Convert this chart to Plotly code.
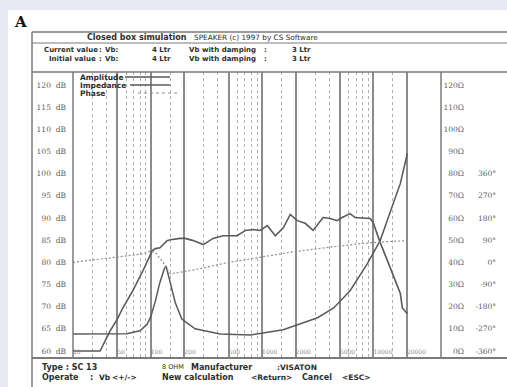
import math
import plotly.graph_objects as go

# ---------------- data ----------------
freq_amp = [20, 28, 35, 43, 50, 56, 61, 69, 85, 95, 103, 110, 121, 140, 150, 184, 204, 241, 296, 363,
            446, 597, 709, 837, 963, 1113, 1314, 1552, 1791, 2070, 2440, 2870, 3530, 4080, 4720, 5240,
            6170, 6850, 9340, 9940, 11500, 15100, 17460, 18200, 20200]
amp_db = [60, 60, 60, 64.5, 67.2, 69.7, 71.3, 73.6, 78.1, 80.8, 82.6, 83.1, 83.3, 84.9, 85.1, 85.4, 85.4,
          84.9, 84.0, 85.4, 86.0, 86.0, 87.2, 87.4, 87.2, 88.3, 86.0, 87.8, 90.8, 89.4, 88.8, 87.2, 90.1,
          89.9, 89.4, 90.1, 91.0, 90.1, 89.9, 89.0, 84.5, 77.0, 73.0, 69.7, 68.4]

freq_imp = [20, 40, 61, 80, 93, 100, 110, 120, 126, 132, 137, 143, 150, 166, 190, 250, 420, 784, 1550,
            2220, 3150, 4400, 6170, 8830, 11500, 15100, 17460, 20200]
imp_ohm = [7.7, 7.7, 7.8, 9.1, 12.2, 15.5, 22.6, 30.5, 34.0, 37.0, 38.4, 34.5, 30.4, 21.8, 14.4, 10.0,
           7.7, 7.2, 9.6, 12.2, 15.0, 19.4, 27.2, 39.4, 49.8, 66.6, 75.6, 89.2]

freq_phase = [20, 33, 53, 85, 99, 110, 120, 129, 140, 150, 250, 490, 1000, 1910, 4000, 7700, 12000,
              17500, 20000]
phase_deg = [0, 11, 23, 35, 45, 40, 20, 0, -27, -47, -30, -1, 22, 43, 61, 76, 83, 88, 88]

x_tick_vals = [20, 50, 100, 200, 500, 1000, 2000, 5000, 10000, 20000]
x_tick_text = ["20", "50", "100", "200", "500", "1000", "2000", "5000", "10000", "20000"]
x_minor_vals = [30, 40, 60, 70, 80, 90, 150, 300, 400, 600, 700, 800, 900, 1500, 3000, 4000,
                6000, 7000, 8000, 9000, 15000]

db_ticks = list(range(60, 121, 5))
db_labels = [f"{v}\u00a0\u00a0dB" for v in db_ticks]
db_solid = list(range(60, 121, 10))
db_dashed = list(range(65, 120, 10))
ohm_ticks = list(range(0, 121, 10))
ohm_labels = [f"{v}Ω" for v in ohm_ticks]
deg_ticks = list(range(-360, 361, 90))
deg_labels = [f"{v}°" for v in deg_ticks]

# ---------------- geometry helpers ----------------
W, H = 507, 387
ML, MR, MT, MB = 73, 8, 72, 30
PW = W - ML - MR
PH = H - MT - MB
PLOT_R = 441


def px(x):
    return (x - ML) / PW


def py(y):
    return (H - MB - y) / PH


DB_RANGE = [58.65, 122.93]
OHM_RANGE = [(DB_RANGE[0] - 60) * 2, (DB_RANGE[1] - 60) * 2]
DEG_RANGE = [(DB_RANGE[0] - 80) * 18, (DB_RANGE[1] - 80) * 18]
X_RANGE = [math.log10(20), math.log10(20) + (PLOT_R - ML) / 111.3]

CURVE = "#5a5a5a"
GRID = "#8c8c8c"
TXT = "#2e2e2e"
LBL = "#5e5e5e"
PHASE_C = "#8e8e8e"

fig = go.Figure()
fig.add_trace(go.Scatter(x=freq_amp, y=amp_db, mode="lines", line=dict(color=CURVE, width=1.6),
                         xaxis="x", yaxis="y", showlegend=False, name="Amplitude"))
fig.add_trace(go.Scatter(x=freq_imp, y=imp_ohm, mode="lines", line=dict(color=CURVE, width=1.5),
                         xaxis="x", yaxis="y2", showlegend=False, name="Impedance"))
fig.add_trace(go.Scatter(x=freq_phase, y=phase_deg, mode="lines",
                         line=dict(color=PHASE_C, width=1.2, dash="2px,2px"),
                         xaxis="x", yaxis="y3", showlegend=False, name="Phase"))

serif = "DejaVu Serif"
sans = "DejaVu Sans"

fig.update_layout(
    width=W, height=H,
    margin=dict(l=ML, r=MR, t=MT, b=MB, pad=0),
    paper_bgcolor="white", plot_bgcolor="white",
    showlegend=False,
    xaxis=dict(type="log", range=X_RANGE, domain=[0, (PLOT_R - ML) / PW], autorange=False,
               tickvals=x_tick_vals, ticktext=x_tick_text, ticks="",
               ticklabelposition="outside right", ticklabelstandoff=-10,
               tickfont=dict(family=serif, size=6, color="#8a8a8a"),
               showgrid=True, gridcolor=GRID, gridwidth=1.5, zeroline=False, showline=False,
               minor=dict(tickvals=x_minor_vals, showgrid=True, gridcolor="#b0b0b0",
                          griddash="dot", gridwidth=1, ticks=""),
               automargin=False),
    yaxis=dict(range=DB_RANGE, autorange=False, tickvals=db_ticks, ticktext=db_labels, ticks="",
               tickfont=dict(family=serif, size=7.5, color=LBL), ticklabelstandoff=6,
               showgrid=False, zeroline=False, showline=False, automargin=False),
    yaxis4=dict(range=DB_RANGE, autorange=False, overlaying="y", tickvals=db_solid,
                showticklabels=False, ticks="", showgrid=True, gridcolor=GRID, gridwidth=1.5,
                zeroline=False, showline=False, automargin=False,
                minor=dict(tickvals=db_dashed, showgrid=True, gridcolor="#6e6e6e",
                           griddash="3px,2px", gridwidth=1.5, ticks="")),
    yaxis2=dict(range=OHM_RANGE, autorange=False, overlaying="y", side="right", anchor="free",
                position=px(467), tickvals=ohm_ticks, ticktext=ohm_labels, ticks="",
                ticklabelposition="inside", tickfont=dict(family=serif, size=7.5, color=LBL),
                showgrid=False, zeroline=False, showline=False, automargin=False),
    yaxis3=dict(range=DEG_RANGE, autorange=False, overlaying="y", side="right", anchor="free",
                position=px(499), tickvals=deg_ticks, ticktext=deg_labels, ticks="",
                ticklabelposition="inside", tickfont=dict(family=serif, size=7.5, color=LBL),
                showgrid=False, zeroline=False, showline=False, automargin=False),
)

shapes = []
LAV = "#e6e9f3"
shapes.append(dict(type="rect", xref="paper", yref="paper", x0=px(0), x1=px(W), y0=py(0), y1=py(10),
                   fillcolor=LAV, line=dict(width=0), layer="above"))
shapes.append(dict(type="rect", xref="paper", yref="paper", x0=px(0), x1=px(8), y0=py(0), y1=py(H),
                   fillcolor=LAV, line=dict(width=0), layer="above"))


def hline(y, x0, x1, color="#7a7a7a", width=1.5, dash="solid"):
    shapes.append(dict(type="line", xref="paper", yref="paper", x0=px(x0), x1=px(x1), y0=py(y), y1=py(y),
                       line=dict(color=color, width=width, dash=dash), layer="above"))


def vline(x, y0, y1, color="#7a7a7a", width=1.5):
    shapes.append(dict(type="line", xref="paper", yref="paper", x0=px(x), x1=px(x), y0=py(y0), y1=py(y1),
                       line=dict(color=color, width=width), layer="above"))


hline(32, 32, W)
hline(43, 32, W, width=1)
hline(72, 32, W)
hline(358, 32, W, width=2)
vline(32, 32, H)
vline(ML, 72, 358)
vline(PLOT_R, 72, 358)
# legend samples
hline(77, 125, 170, color=CURVE, width=1.5)
hline(85, 130, 170, color=CURVE, width=1.5)
hline(93, 138, 178, color=PHASE_C, width=1.2, dash="dot")
fig.update_layout(shapes=shapes)

ann = []


def text(x, y, s, size=7.5, bold=True, family=sans, color=TXT, anchor="left"):
    ann.append(dict(xref="paper", yref="paper", x=px(x), y=py(y), text=s, showarrow=False,
                    xanchor=anchor, yanchor="middle",
                    font=dict(family=family, size=size, color=color, weight="bold" if bold else "normal")))


text(12, 22, "A", size=15, family=serif, color="#111")
text(85, 37, "Closed box simulation", size=8)
text(192, 37, "SPEAKER (c) 1997 by CS Software", size=7.3, bold=False)
for yy, lab, x0 in [(50, "Current value", 42), (59, "Initial value", 47)]:
    text(x0, yy, lab, size=7)
    text(97, yy, ":", size=7)
    text(103, yy, "Vb:", size=7)
    text(150, yy, "4 Ltr", size=7)
    text(187, yy, "Vb", size=7)
    text(200, yy, "with damping", size=7)
    text(262, yy, ":", size=7)
    text(290, yy, "3 Ltr", size=7)
text(78, 77, "Amplitude", size=7.5)
text(78, 85, "Impedance", size=7.5)
text(78, 93, "Phase", size=7.5)
text(40, 367, "Type : SC 13", size=8)
text(160, 367, "8 OHM", size=6.5, bold=False)
text(189, 367, "Manufacturer", size=8)
text(275, 367, ":VISATON", size=7.5)
text(40, 377, "Operate", size=8)
text(88, 377, ":", size=8)
text(97, 377, "Vb", size=7.5)
text(110, 377, "<+/->", size=7.5)
text(160, 377, "New calculation", size=8)
text(249, 377, "<Return>", size=7.5)
text(300, 377, "Cancel", size=8)
text(340, 377, "<ESC>", size=7.5)
fig.update_layout(annotations=ann)

fig.write_html("out.html", config={"displayModeBar": False},
               post_script="document.body.style.margin='0';document.body.style.overflow='hidden';")
